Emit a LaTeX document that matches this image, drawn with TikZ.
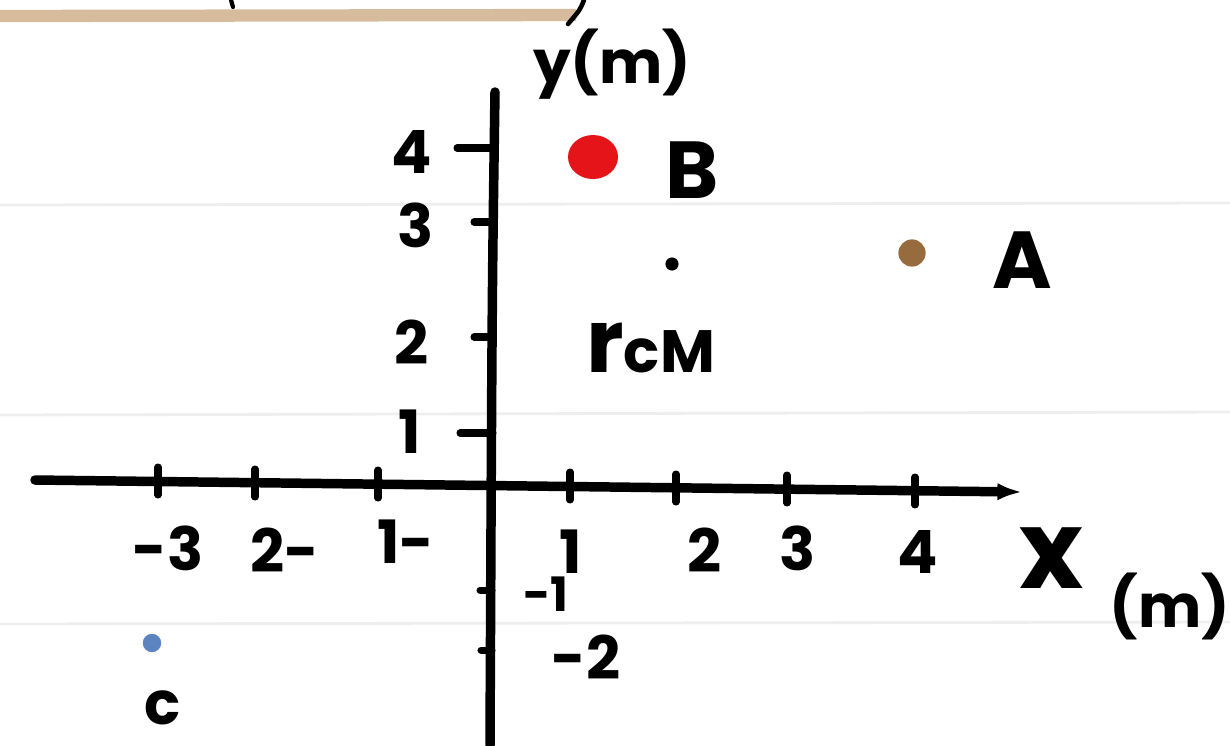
\documentclass[tikz,border=0pt]{standalone}
\usepackage{fontspec}
\setmainfont{Poppins}
\usetikzlibrary{arrows.meta}
\definecolor{tanband}{RGB}{214,188,156}
\definecolor{dotB}{RGB}{228,20,24}
\definecolor{dotA}{RGB}{150,108,62}
\definecolor{dotC}{RGB}{92,132,192}
\definecolor{ruled}{RGB}{238,238,238}
\begin{document}
\begin{tikzpicture}[x=0.02cm,y=-0.02cm,
  axis/.style={line width=5.4pt,line cap=round},
  tickmark/.style={line width=4pt,line cap=round},
  lbl/.style={inner sep=0pt,font=\fontsize{34}{34}\selectfont\bfseries},
  small/.style={inner sep=0pt,font=\fontsize{27}{27}\selectfont\bfseries},
  big/.style={inner sep=0pt,font=\fontsize{46}{46}\selectfont\bfseries},
  huge/.style={inner sep=0pt,font=\fontsize{62}{62}\selectfont\bfseries},
  pt/.style={circle,inner sep=0pt}]
\useasboundingbox (0,0) rectangle (1230,745);
\fill[white] (0,0) rectangle (1230,745);
% ruled notebook lines
\draw[ruled,line width=1.6pt] (0,205) -- (1230,203);
\draw[ruled,line width=1.6pt] (0,415) -- (1230,412);
\draw[ruled,line width=1.6pt] (0,624) -- (1230,622);
% top band (cut-off heading)
\draw[tanband,line width=7pt] (0,16) -- (576,15);
\draw[line width=2.6pt,line cap=round] (584,0) .. controls (580,10) .. (568,24);
\draw[line width=2.4pt,line cap=round] (231,0) -- (233,7);
% axes
\coordinate (xl) at (35,480);
\coordinate (xr) at (1022,492);
\coordinate (yt) at (495,92);
\coordinate (yb) at (490,745);
\draw[axis,-{Latex[length=14pt,width=10pt]}] (xl) -- (xr);
\draw[axis] (yt) .. controls (492,300) .. (yb);
% x ticks
\foreach \xx/\yy in {158/481,255/483,378/484,570/486,676/488,787/489,915/491}
  \draw[tickmark] (\xx,\yy-14) -- (\xx,\yy+14);
% y ticks
\foreach \yy/\xa in {148/457,222/474,337/474,433/460}
  \draw[tickmark] (\xa,\yy) -- (493,\yy);
\draw[tickmark] (480,590) -- (492,590);
\draw[tickmark] (481,650) -- (492,650);
% x labels
\node[lbl] (lm3) at (168,548) {-3};
\node[lbl] (lm2) at (285,550) {2-};
\node[lbl] (lm1) at (406,542) {1-};
\node[lbl] (l1) at (571,552) {1};
\node[lbl] (l2) at (705,550) {2};
\node[lbl] (l3) at (798,548) {3};
\node[lbl] (l4) at (918,552) {4};
\node[huge] (lx) at (1052,558) {x};
\node[lbl] (lxm) at (1170,606) {(m)};
% y labels
\node[lbl] (ly4) at (412,152) {4};
\node[lbl] (ly3) at (416,225) {3};
\node[lbl] (ly2) at (412,342) {2};
\node[lbl] (ly1) at (410,432) {1};
\node[small] (lyn1) at (546,594) {-1};
\node[lbl] (lyn2) at (586,657) {-2};
\node[lbl] (ly) at (612,64) {y(m)};
% points
\coordinate (Bc) at (593,157);
\fill[dotB] (Bc) ellipse [x radius=25,y radius=22];
\node[big] (lB) at (692,170) {B};
\node[pt,fill=dotA,minimum size=15.5pt] (A) at (912,253) {};
\node[big] (lA) at (1022,260) {A};
\node[pt,fill=black,minimum size=7.5pt] (CM) at (672,264) {};
\node[inner sep=0pt,anchor=base west,font=\fontsize{50}{50}\selectfont\bfseries] (lCM) at (586,372) {r\fontsize{34}{34}\selectfont cM};
\node[pt,fill=dotC,minimum size=10.5pt] (C) at (152,643) {};
\node[lbl] (lC) at (163,708) {c};
\end{tikzpicture}
\end{document}
